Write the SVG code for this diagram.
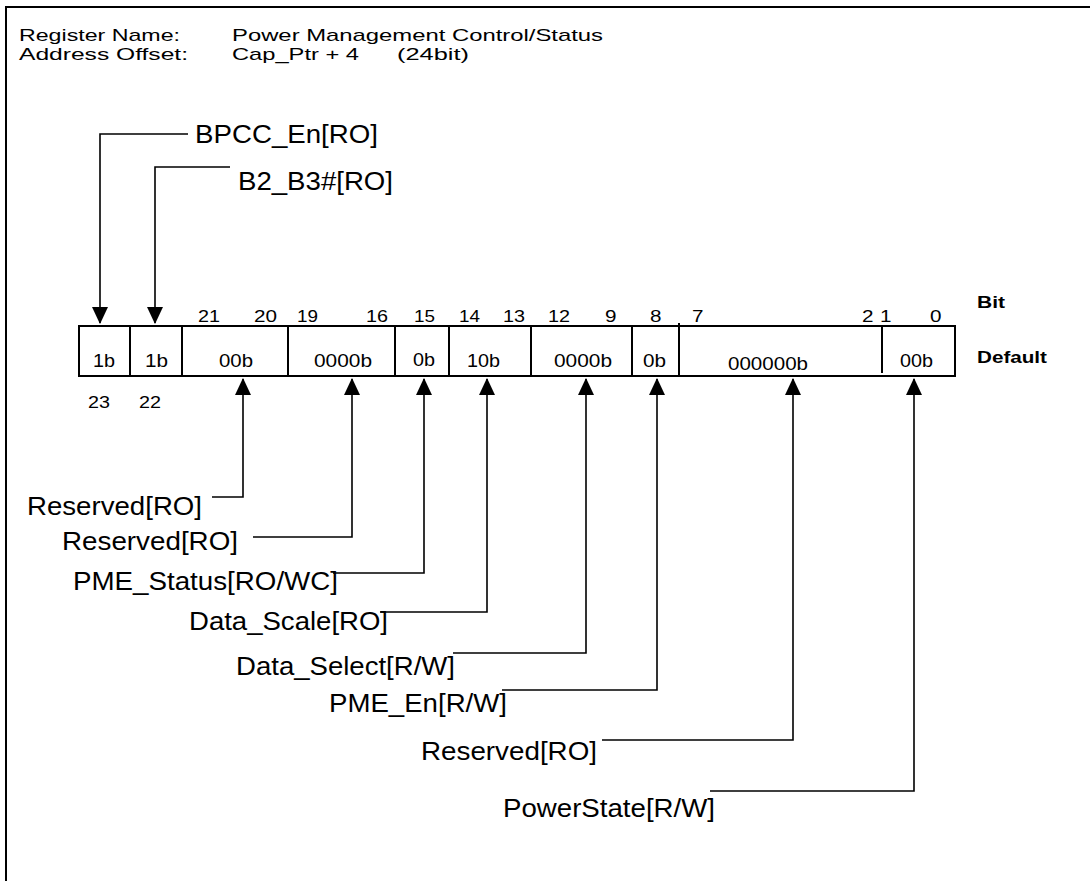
<svg xmlns="http://www.w3.org/2000/svg" width="1090" height="881" viewBox="0 0 1090 881">
<defs>
<style>
text{font-family:"Liberation Sans",Arial,sans-serif;fill:#000}
.hd{font-size:17px}
.lb{font-size:25px}
.num{font-size:17px}
.val{font-size:17.5px}
.bold{font-size:17px;font-weight:bold}
.ln{fill:none;stroke:#000;stroke-width:1.6}
.box{fill:none;stroke:#000;stroke-width:2}
</style>
<marker id="arrow" markerUnits="userSpaceOnUse" markerWidth="17" markerHeight="16" viewBox="0 0 17 16" refX="16" refY="8" orient="auto">
<path d="M0,0 L17,8 L0,16 Z" fill="#000"/>
</marker>
</defs>
<rect width="1090" height="881" fill="#fff"/>
<g id="frame">
<path d="M6,890 V7 H1095" class="box"/>
</g>
<g id="header">
<text class="hd" x="19" y="41" textLength="161" lengthAdjust="spacingAndGlyphs">Register Name:</text>
<text class="hd" x="232" y="41" textLength="371" lengthAdjust="spacingAndGlyphs">Power Management Control/Status</text>
<text class="hd" x="19" y="60" textLength="169" lengthAdjust="spacingAndGlyphs">Address Offset:</text>
<text class="hd" x="232" y="60" textLength="127" lengthAdjust="spacingAndGlyphs">Cap_Ptr + 4</text>
<text class="hd" x="397" y="60" textLength="72" lengthAdjust="spacingAndGlyphs">(24bit)</text>
</g>
<g id="register">
<rect x="79" y="326" width="876" height="50" class="box"/>
<path d="M130,326 V376 M182,326 V376 M288,326 V376 M395,326 V376 M449,326 V376 M531,326 V376 M632,326 V376 M679,323 V376 M882,326 V373" class="box"/>
<g id="bitnums">
<text class="num" x="198" y="322" textLength="22" lengthAdjust="spacingAndGlyphs">21</text>
<text class="num" x="254" y="322" textLength="23" lengthAdjust="spacingAndGlyphs">20</text>
<text class="num" x="297" y="322" textLength="21" lengthAdjust="spacingAndGlyphs">19</text>
<text class="num" x="366" y="322" textLength="22" lengthAdjust="spacingAndGlyphs">16</text>
<text class="num" x="414" y="322" textLength="21" lengthAdjust="spacingAndGlyphs">15</text>
<text class="num" x="459" y="322" textLength="21" lengthAdjust="spacingAndGlyphs">14</text>
<text class="num" x="503" y="322" textLength="22" lengthAdjust="spacingAndGlyphs">13</text>
<text class="num" x="548" y="322" textLength="22" lengthAdjust="spacingAndGlyphs">12</text>
<text class="num" x="605" y="322" textLength="11.5" lengthAdjust="spacingAndGlyphs">9</text>
<text class="num" x="650" y="322" textLength="11.5" lengthAdjust="spacingAndGlyphs">8</text>
<text class="num" x="692" y="322" textLength="11.5" lengthAdjust="spacingAndGlyphs">7</text>
<text class="num" x="862" y="322" textLength="11.5" lengthAdjust="spacingAndGlyphs">2</text>
<text class="num" x="880" y="322" textLength="11.5" lengthAdjust="spacingAndGlyphs">1</text>
<text class="num" x="930" y="322" textLength="11.5" lengthAdjust="spacingAndGlyphs">0</text>
<text class="num" x="88" y="408" textLength="22" lengthAdjust="spacingAndGlyphs">23</text>
<text class="num" x="139" y="408" textLength="22" lengthAdjust="spacingAndGlyphs">22</text>
</g>
<g id="values">
<text class="val" x="93" y="367" textLength="22" lengthAdjust="spacingAndGlyphs">1b</text>
<text class="val" x="145" y="367" textLength="23" lengthAdjust="spacingAndGlyphs">1b</text>
<text class="val" x="219" y="367" textLength="34" lengthAdjust="spacingAndGlyphs">00b</text>
<text class="val" x="314" y="367" textLength="58" lengthAdjust="spacingAndGlyphs">0000b</text>
<text class="val" x="413" y="366" textLength="22" lengthAdjust="spacingAndGlyphs">0b</text>
<text class="val" x="467" y="367" textLength="33" lengthAdjust="spacingAndGlyphs">10b</text>
<text class="val" x="554" y="367" textLength="58" lengthAdjust="spacingAndGlyphs">0000b</text>
<text class="val" x="643" y="367" textLength="23" lengthAdjust="spacingAndGlyphs">0b</text>
<text class="val" x="728" y="370" textLength="80" lengthAdjust="spacingAndGlyphs">000000b</text>
<text class="val" x="900" y="367" textLength="33" lengthAdjust="spacingAndGlyphs">00b</text>
</g>
<text class="bold" x="977" y="308" textLength="28" lengthAdjust="spacingAndGlyphs">Bit</text>
<text class="bold" x="977" y="363" textLength="70" lengthAdjust="spacingAndGlyphs">Default</text>
</g>
<g id="connectors">
<path class="ln" d="M188,134 H100 V323" marker-end="url(#arrow)"/>
<path class="ln" d="M230,167 H155 V323" marker-end="url(#arrow)"/>
<path class="ln" d="M212,497 H243 V379" marker-end="url(#arrow)"/>
<path class="ln" d="M253,537 H352 V379" marker-end="url(#arrow)"/>
<path class="ln" d="M333,573 H424 V379" marker-end="url(#arrow)"/>
<path class="ln" d="M380,612 H487 V379" marker-end="url(#arrow)"/>
<path class="ln" d="M453,653 H586 V379" marker-end="url(#arrow)"/>
<path class="ln" d="M502,690 H657 V379" marker-end="url(#arrow)"/>
<path class="ln" d="M602,740 H793 V379" marker-end="url(#arrow)"/>
<path class="ln" d="M710,791 H914 V379" marker-end="url(#arrow)"/>
</g>
<g id="label-bpcc"><text class="lb" x="195" y="143" textLength="183" lengthAdjust="spacingAndGlyphs">BPCC_En[RO]</text></g>
<g id="label-b2b3"><text class="lb" x="238" y="190" textLength="155" lengthAdjust="spacingAndGlyphs">B2_B3#[RO]</text></g>
<g id="label-res1"><text class="lb" x="27" y="515" textLength="175" lengthAdjust="spacingAndGlyphs">Reserved[RO]</text></g>
<g id="label-res2"><text class="lb" x="62" y="550" textLength="176" lengthAdjust="spacingAndGlyphs">Reserved[RO]</text></g>
<g id="label-pmestatus"><text class="lb" x="73" y="590" textLength="265" lengthAdjust="spacingAndGlyphs">PME_Status[RO/WC]</text></g>
<g id="label-datascale"><text class="lb" x="189" y="630" textLength="199" lengthAdjust="spacingAndGlyphs">Data_Scale[RO]</text></g>
<g id="label-dataselect"><text class="lb" x="236" y="675" textLength="219" lengthAdjust="spacingAndGlyphs">Data_Select[R/W]</text></g>
<g id="label-pmeen"><text class="lb" x="329" y="712" textLength="178" lengthAdjust="spacingAndGlyphs">PME_En[R/W]</text></g>
<g id="label-res3"><text class="lb" x="421" y="760" textLength="176" lengthAdjust="spacingAndGlyphs">Reserved[RO]</text></g>
<g id="label-powerstate"><text class="lb" x="503" y="817" textLength="212" lengthAdjust="spacingAndGlyphs">PowerState[R/W]</text></g>
</svg>
